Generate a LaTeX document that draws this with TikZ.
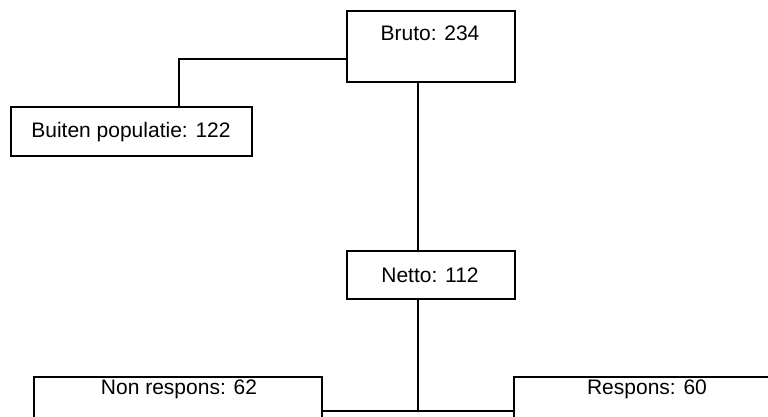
\documentclass[tikz,border=0pt]{standalone}
\usepackage{fontspec}
\setmainfont{Liberation Sans}
\begin{document}
\begin{tikzpicture}[x=1pt,y=-1pt,
  box/.style={draw=black,line width=1.6pt,rectangle,inner sep=0pt,fill=white},
  lbl/.style={inner sep=0pt,font=\fontsize{21}{25}\selectfont,text=black},
  conn/.style={draw=black,line width=1.6pt}]
\useasboundingbox (0,0) rectangle (768,416);
\clip (0,0) rectangle (768,416);
\fill[white] (0,0) rectangle (768,416);
% boxes
\node[box,minimum width=168pt,minimum height=71pt] (bruto) at (431,46.5) {};
\node[box,minimum width=241pt,minimum height=49pt] (buiten) at (131.5,131.5) {};
\node[box,minimum width=168pt,minimum height=48pt] (netto) at (431,275) {};
\node[box,minimum width=288pt,minimum height=50pt] (nonresp) at (178,402) {};
\node[box,minimum width=288pt,minimum height=50pt] (resp) at (658,402) {};
% texts
\node[lbl] (tbruto) at (430,33) {Bruto: 234};
\node[lbl] (tbuiten) at (131,132) {Buiten populatie: 122};
\node[lbl] (tnetto) at (430,275) {Netto: 112};
\node[lbl] (tnonresp) at (179,389) {Non respons: 62};
\node[lbl] (tresp) at (647,389) {Respons: 60};
% connectors
\coordinate (bl) at (179,59);
\coordinate (j) at (418,411);
\draw[conn] (bruto.west |- bl) -- (bl) -- (buiten.north -| bl);
\draw[conn] (bruto.south -| j) -- (netto.north -| j);
\draw[conn] (netto.south -| j) -- (j);
\draw[conn] (nonresp.east |- j) -- (resp.west |- j);
\end{tikzpicture}
\end{document}
